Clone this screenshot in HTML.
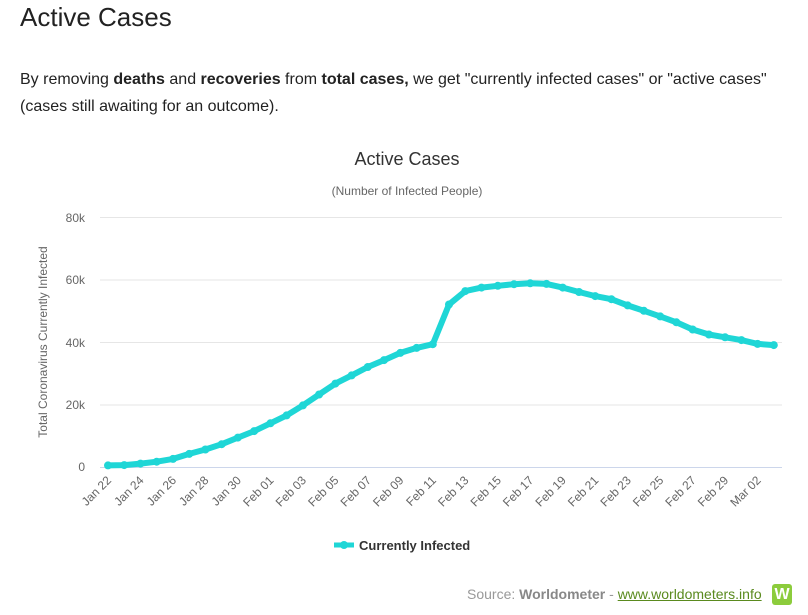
<!DOCTYPE html>
<html><head><style>
body{margin:0;background:#fff;width:808px;height:615px;overflow:hidden;font-family:"Liberation Sans",sans-serif;}
h1{position:absolute;left:20px;top:2px;margin:0;font-weight:normal;font-size:26px;color:#222;}
p{position:absolute;left:20px;top:66px;margin:0;font-size:16px;line-height:27px;color:#222;width:790px;}
.src{position:absolute;left:467px;top:586px;font-size:14px;color:#999;}
.src b{color:#888}
.src a{color:#5a8a1e;text-decoration:underline}
.w{position:absolute;left:772px;top:584px;width:20px;height:21px;background:#8ccc3c;border-radius:3px;color:#fff;font-weight:bold;font-size:16px;text-align:center;line-height:21px}
</style></head><body>
<h1>Active Cases</h1>
<p>By removing <b>deaths</b> and <b>recoveries</b> from <b>total cases,</b> we get "currently infected cases" or "active cases" (cases still awaiting for an outcome).</p>
<svg width="808" height="615" style="position:absolute;left:0;top:0" font-family="Liberation Sans, DejaVu Sans, sans-serif">
<text x="407" y="165" text-anchor="middle" font-size="18" fill="#333">Active Cases</text>
<text x="407" y="195" text-anchor="middle" font-size="12" fill="#666">(Number of Infected People)</text>
<g stroke="#e6e6e6" stroke-width="1">
<line x1="100" x2="782" y1="217.5" y2="217.5"/><line x1="100" x2="782" y1="280" y2="280"/>
<line x1="100" x2="782" y1="342.5" y2="342.5"/><line x1="100" x2="782" y1="405" y2="405"/>
</g>
<line x1="100" x2="782" y1="467.5" y2="467.5" stroke="#ccd6eb"/>
<g font-size="12" fill="#666" text-anchor="end">
<text x="85" y="222">80k</text><text x="85" y="284">60k</text><text x="85" y="347">40k</text><text x="85" y="409">20k</text><text x="85" y="471">0</text>
</g>
<text transform="translate(47,342) rotate(-90)" text-anchor="middle" font-size="12" fill="#666">Total Coronavirus Currently Infected</text>
<g id="xl" font-size="12" fill="#666" text-anchor="end"></g>
<polyline id="ln" fill="none" stroke="#1fd6d6" stroke-width="6" stroke-linejoin="round"/>
<g id="dots" fill="#1fd6d6"></g>
<line x1="334" x2="354" y1="545" y2="545" stroke="#1fd6d6" stroke-width="5"/>
<circle cx="344" cy="545" r="4" fill="#1fd6d6"/>
<text x="359" y="550" font-size="13" font-weight="bold" fill="#333">Currently Infected</text>
</svg>
<div class="src">Source: <b>Worldometer</b> - <a>www.worldometers.info</a></div>
<div class="w">W</div>
<script>
var d=[0.5,0.6,1.1,1.7,2.6,4.2,5.6,7.3,9.4,11.5,14,16.5,19.7,23.2,26.7,29.3,32,34.2,36.5,38.1,39.3,52,56.3,57.4,58,58.5,58.8,58.6,57.4,56,54.7,53.7,51.7,50,48.2,46.3,44,42.4,41.5,40.6,39.4,39.0];
var pts=[],dots='',xl='';
var names=["Jan 22","Jan 24","Jan 26","Jan 28","Jan 30","Feb 01","Feb 03","Feb 05","Feb 07","Feb 09","Feb 11","Feb 13","Feb 15","Feb 17","Feb 19","Feb 21","Feb 23","Feb 25","Feb 27","Feb 29","Mar 02"];
for(var i=0;i<d.length;i++){var x=108+i*16.24,y=467-d[i]*3.125;pts.push(x.toFixed(1)+','+y.toFixed(1));dots+='<circle cx="'+x.toFixed(1)+'" cy="'+y.toFixed(1)+'" r="4"/>';}
for(var j=0;j<names.length;j++){var x=108+j*2*16.24+4;xl+='<text transform="translate('+x.toFixed(1)+',481) rotate(-45)">'+names[j]+'</text>';}
document.getElementById('ln').setAttribute('points',pts.join(' '));
document.getElementById('dots').innerHTML=dots;
document.getElementById('xl').innerHTML=xl;
</script>
</body></html>
